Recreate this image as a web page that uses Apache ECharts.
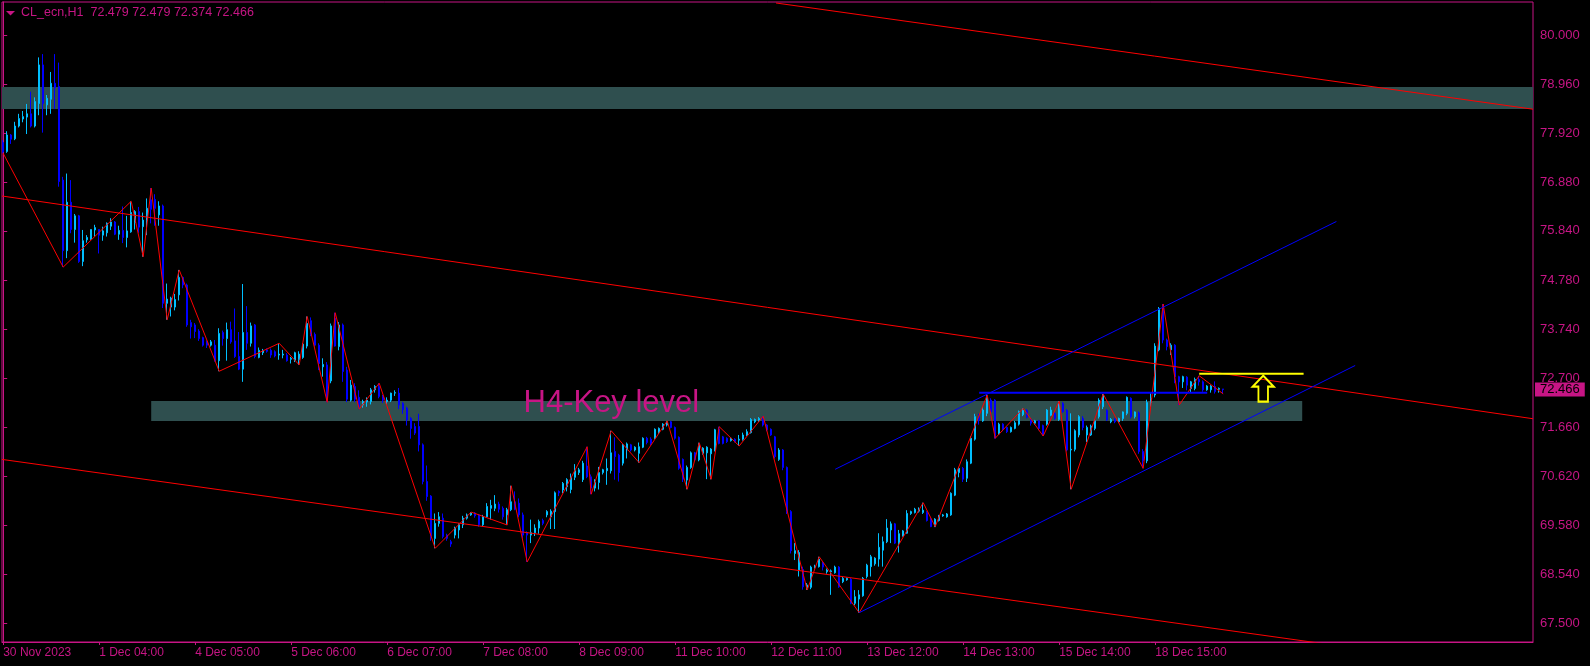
<!DOCTYPE html>
<html><head><meta charset="utf-8">
<script src="https://cdn.jsdelivr.net/npm/echarts@6/dist/echarts.min.js"></script>
<style>html,body{margin:0;padding:0;background:#000;}#c{width:1590px;height:666px;}</style>
</head><body><div id="c"></div>
<script>
// ---------- DATA ----------
const symbolName = 'CL_ecn,H1';
const timeLabels = ['30 Nov 2023','1 Dec 04:00','4 Dec 05:00','5 Dec 06:00','6 Dec 07:00','7 Dec 08:00','8 Dec 09:00','11 Dec 10:00','12 Dec 11:00','13 Dec 12:00','14 Dec 13:00','15 Dec 14:00','18 Dec 15:00'];
const labelStep = 24;
const priceTicks = [67.5,68.54,69.58,70.62,71.66,72.7,73.74,74.78,75.84,76.88,77.92,78.96,80.0];

const opens = [
77.72,77.53,77.88,77.80,78.07,78.22,78.26,78.33,78.07,78.55,
79.37,78.52,78.64,78.98,78.91,76.92,75.42,76.45,75.87,76.16,
75.19,75.65,75.67,75.86,75.87,75.75,75.80,75.94,76.03,75.77,
75.85,75.70,75.82,76.02,76.25,75.93,76.06,76.50,76.51,76.18,
76.37,74.30,74.22,74.22,74.48,74.85,74.69,73.89,73.84,73.71,
73.57,73.48,73.41,73.41,73.08,73.68,73.55,73.74,73.50,73.17,
72.90,73.68,73.45,73.84,73.15,73.25,73.31,73.30,73.27,73.20,
73.20,73.20,73.11,73.09,73.10,73.15,73.39,73.93,73.64,73.41,
72.95,72.99,72.65,73.98,73.38,73.84,72.88,72.24,72.53,72.30,
72.14,72.20,72.21,72.46,72.53,72.32,72.21,72.24,72.39,72.39,
72.17,72.07,71.85,71.68,71.68,71.29,70.51,70.20,69.30,69.62,
69.73,69.37,69.23,69.37,69.48,69.59,69.73,69.80,69.84,69.80,
69.59,69.76,69.94,69.94,70.03,69.94,69.80,69.91,70.08,70.05,
69.80,69.42,69.37,69.42,69.52,69.68,69.80,69.76,69.87,70.30,
70.33,70.40,70.34,70.60,70.70,70.55,70.84,70.61,70.37,70.49,
70.70,70.74,70.74,71.15,71.07,70.90,71.18,71.29,71.18,71.11,
71.24,71.43,71.41,71.43,71.55,71.62,71.71,71.78,71.66,71.45,
70.98,70.54,70.81,71.12,70.97,71.11,71.12,71.10,71.18,71.62,
71.46,71.43,71.38,71.41,71.39,71.41,71.50,71.55,71.78,71.80,
71.83,71.71,71.62,71.46,70.98,71.18,70.81,69.87,68.98,68.63,
68.64,68.25,68.26,68.69,68.70,68.78,68.59,68.59,68.57,68.69,
68.38,68.42,68.43,67.92,68.01,68.08,68.49,68.70,68.76,68.86,
69.05,69.23,69.48,69.61,69.20,69.35,69.41,69.83,69.85,69.88,
69.85,69.85,69.71,69.55,69.68,69.78,69.76,69.80,70.22,70.70,
70.79,70.58,70.90,71.41,71.89,71.80,71.96,72.24,72.24,71.52,
71.73,71.66,71.57,71.64,71.73,71.93,72.02,71.83,71.75,71.80,
71.70,71.73,71.92,71.96,71.83,72.17,72.02,71.18,71.195,71.50,
71.85,71.50,71.50,71.64,71.89,72.10,72.02,71.78,71.83,71.78,
71.85,71.96,72.28,71.89,71.97,71.15,70.95,72.19,72.35,73.31,
74.24,73.52,73.31,73.41,72.74,72.63,72.73,72.49,72.49,72.68,
72.63,72.46,72.46,72.53,72.47,72.479];

const closes = [
77.52,77.88,77.79,78.07,78.23,78.27,78.33,78.07,78.59,79.37,
78.55,78.66,78.98,78.89,76.89,75.42,76.45,75.87,76.16,75.19,
75.63,75.70,75.87,75.91,75.75,75.84,76.00,76.03,75.77,75.85,
75.70,75.84,76.23,76.25,75.92,76.07,76.32,76.30,76.32,76.37,
74.30,74.39,74.41,74.38,74.85,74.69,73.84,73.80,73.70,73.55,
73.41,73.41,73.48,73.08,73.66,73.55,73.74,73.48,73.17,72.90,
73.68,73.45,73.82,73.17,73.30,73.30,73.28,73.20,73.18,73.22,
73.22,73.08,73.13,73.25,73.22,73.43,73.87,73.63,73.41,73.02,
73.00,72.23,73.82,73.39,73.84,72.85,72.26,72.56,72.26,72.10,
72.21,72.24,72.46,72.53,72.32,72.24,72.24,72.39,72.40,72.14,
72.04,71.82,71.64,71.54,71.29,70.51,70.19,69.34,69.62,69.76,
69.34,69.30,69.18,69.52,69.59,69.73,69.80,69.84,69.78,69.59,
69.76,69.98,70.00,70.03,69.92,69.76,69.91,70.08,69.92,69.80,
69.37,69.37,69.42,69.52,69.66,69.62,69.87,69.88,70.27,70.27,
70.47,70.55,70.60,70.74,70.76,70.90,70.61,70.37,70.49,70.70,
70.76,70.79,71.12,71.04,70.70,71.29,71.31,71.18,71.24,71.25,
71.43,71.34,71.32,71.62,71.64,71.73,71.78,71.66,71.43,70.79,
70.56,70.81,71.12,70.97,71.32,71.22,71.24,71.20,71.61,71.32,
71.32,71.36,71.43,71.36,71.41,71.50,71.57,71.83,71.83,71.85,
71.71,71.61,71.50,71.04,71.18,70.81,69.87,69.04,69.04,69.00,
68.27,68.31,68.69,68.71,68.86,68.69,68.63,68.61,68.69,68.27,
68.45,68.45,67.92,68.06,68.10,68.45,68.73,68.91,68.88,69.11,
69.23,69.52,69.61,69.20,69.40,69.46,69.83,69.87,69.92,69.92,
69.90,69.68,69.55,69.71,69.78,69.80,69.82,70.26,70.76,70.79,
70.56,70.93,71.43,71.89,71.82,72.03,72.30,71.99,71.43,71.73,
71.62,71.57,71.66,71.76,72.00,72.02,71.875,71.75,71.80,71.64,
71.50,72.03,72.03,71.85,72.17,72.00,71.18,71.195,71.59,71.89,
71.66,71.66,71.69,71.80,72.24,72.35,71.82,71.83,71.78,71.85,
71.99,72.30,71.89,71.99,71.15,70.95,72.19,72.28,73.39,74.19,
73.52,73.38,73.41,72.74,72.63,72.74,72.56,72.63,72.68,72.63,
72.46,72.54,72.54,72.42,72.49,72.466];

const highs = [
77.77,77.96,77.90,78.16,78.33,78.39,78.54,78.80,78.68,79.53,
79.60,78.73,79.22,79.60,79.42,76.99,77.06,76.92,76.20,76.18,
75.86,75.75,75.87,75.97,75.87,75.93,76.02,76.11,76.05,75.95,
76.36,76.16,76.47,76.28,76.35,76.23,76.53,76.75,76.62,76.47,
76.40,74.72,74.44,74.50,75.01,74.87,74.72,73.95,73.88,73.75,
73.59,73.51,73.52,73.52,73.77,73.72,73.89,73.91,74.19,73.69,
74.71,74.24,73.89,73.86,73.36,73.33,73.34,73.34,73.30,73.45,
73.31,73.24,73.16,73.27,73.28,73.45,74.02,74.00,73.68,73.45,
73.13,73.05,73.87,74.10,73.90,73.87,72.95,72.67,72.60,72.45,
72.25,72.30,72.50,72.56,72.60,72.35,72.30,72.40,72.45,72.50,
72.20,72.10,71.88,71.75,71.95,71.32,70.85,70.22,69.83,69.86,
69.83,69.40,69.27,69.55,69.62,69.78,69.83,69.86,69.86,69.82,
69.80,70.05,70.12,70.22,70.08,69.98,69.95,70.42,70.30,70.15,
69.85,69.45,69.70,69.60,69.70,69.72,69.90,69.92,70.30,70.32,
70.50,70.58,70.68,70.88,70.80,70.95,71.25,70.66,70.56,70.82,
70.78,71.00,71.59,71.45,71.10,71.31,71.34,71.31,71.26,71.34,
71.45,71.46,71.45,71.64,71.66,71.75,71.80,71.80,71.68,71.47,
71.00,70.85,71.15,71.14,71.335,71.24,71.26,71.22,71.63,71.676,
71.48,71.45,71.45,71.43,71.50,71.55,71.62,71.86,71.85,71.88,
71.90,71.73,71.64,71.48,71.22,71.20,70.83,69.90,69.20,69.05,
68.70,68.35,68.72,68.74,68.91,68.80,68.66,68.64,68.72,68.71,
68.48,68.47,68.46,68.20,68.20,68.48,68.76,68.95,68.90,69.41,
69.34,69.71,69.66,69.63,69.48,69.48,69.90,69.89,69.95,69.96,
70.06,69.88,69.73,69.73,69.80,69.82,69.84,70.28,70.80,70.82,
70.82,70.98,71.47,71.95,71.95,72.10,72.35,72.28,72.26,71.76,
71.75,71.68,71.68,71.80,72.02,72.067,72.05,71.85,71.82,71.82,
71.72,72.05,72.10,72.00,72.22,72.20,72.05,71.96,71.62,71.92,
71.90,71.70,71.72,71.84,72.28,72.372,72.05,71.86,71.86,71.87,
72.00,72.32,72.30,72.00,72.00,71.20,72.25,72.39,73.45,74.22,
74.285,73.55,73.45,73.43,72.76,72.76,72.75,72.65,72.72,72.76,
72.66,72.56,72.56,72.64,72.51,72.479];

const lows = [
77.49,77.50,77.69,77.77,78.04,78.15,77.90,78.04,78.04,78.30,
77.93,78.30,78.33,78.43,76.78,75.07,75.26,75.79,75.59,75.16,
75.09,75.59,75.65,75.72,75.36,75.63,75.72,75.86,75.75,75.65,
75.58,75.49,75.80,75.87,75.80,75.29,75.75,76.00,75.95,75.95,
74.20,73.95,74.02,74.15,74.36,74.62,73.80,73.55,73.56,73.50,
73.38,73.35,73.38,73.06,72.855,73.40,73.08,73.44,73.14,72.88,
72.63,73.31,73.38,73.13,73.13,73.20,73.25,73.14,73.15,73.10,
73.13,73.06,73.02,73.05,72.99,73.12,73.34,73.60,73.38,72.88,
72.74,72.195,72.60,73.38,73.30,72.63,72.20,72.21,72.20,72.05,
72.08,72.10,72.15,72.40,72.28,72.18,72.15,72.20,72.33,72.05,
71.95,71.70,71.42,71.50,71.15,70.45,70.10,69.25,69.09,69.55,
69.30,69.25,69.12,69.30,69.30,69.52,69.70,69.78,69.74,69.55,
69.56,69.74,69.70,69.88,69.85,69.70,69.585,69.88,69.90,69.75,
69.30,68.80,69.20,69.35,69.40,69.58,69.75,69.50,69.50,70.20,
70.26,70.30,70.26,70.54,70.65,70.50,70.58,70.24,70.30,70.34,
70.66,70.44,70.68,70.55,70.51,70.85,71.00,71.15,71.15,70.91,
71.22,71.30,71.28,71.41,71.52,71.60,71.68,71.64,71.40,70.76,
70.50,70.345,70.78,70.95,70.94,71.08,70.56,70.557,71.15,71.30,
71.30,71.33,71.36,71.34,71.266,71.38,71.48,71.53,71.75,71.78,
71.68,71.58,71.48,71.00,70.95,70.75,69.82,68.98,68.84,68.49,
68.21,68.203,68.22,68.66,68.68,68.62,68.55,68.10,68.55,68.25,
68.35,68.40,67.90,67.88,67.72,68.06,68.45,68.49,68.72,68.70,
68.70,69.20,69.20,69.18,69.00,69.34,69.40,69.80,69.83,69.85,
69.82,69.66,69.54,69.55,69.66,69.76,69.74,69.78,70.20,70.60,
70.50,70.50,70.88,71.38,71.72,71.78,71.90,71.90,71.43,71.50,
71.58,71.54,71.55,71.62,71.70,71.90,71.85,71.70,71.72,71.60,
71.478,71.70,71.90,71.82,71.80,71.97,71.15,70.345,71.15,71.45,
71.60,71.35,71.48,71.60,71.85,72.05,71.80,71.75,71.75,71.76,
71.80,71.92,71.85,71.85,71.10,70.79,70.90,72.10,72.30,73.28,
73.45,73.30,73.20,72.60,72.137,72.50,72.45,72.40,72.45,72.55,
72.42,72.44,72.40,72.38,72.40,72.374];

// ZigZag pivots (bar index, price)
const zigzagBars = [0,15,32,35,37,41,44,54,69,74,76,81,83,89,94,108,117,126,127,131,146,147,152,159,166,171,174,177,179,184,190,201,204,214,230,233,246,248,255,260,264,267,275,285,290,294,299,305];
const zigzagPrices = [77.49,75.07,76.47,75.29,76.75,73.95,75.01,72.855,73.45,72.99,74.02,72.195,74.10,72.05,72.60,69.09,69.86,69.585,70.42,68.80,71.25,70.24,71.59,70.91,71.80,70.345,71.335,70.557,71.676,71.266,71.90,68.203,68.91,67.72,70.06,69.55,72.35,71.43,72.067,71.478,72.22,70.345,72.372,70.79,74.285,72.137,72.76,72.374];

// Drawn objects, as [bar index, price] anchors
const redChannelTop = [[193.2, 80.687], [382.45, 78.428]];
const redChannelMid = [[-0.3, 76.582], [382.45, 71.845]];
const redChannelLow = [[-0.3, 70.980], [382.45, 66.44]];
const blueChannelUp = [[208, 70.77], [333.3, 76.04]];
const blueChannelLow = [[214, 67.72], [338, 72.978]];
const blueLevel = [[244, 72.399], [301, 72.399]];
const yellowLevel = [[299, 72.803], [325.1, 72.803]];
const arrowAnchor = [315, 72.484];
const topZonePrices = [78.43, 78.90];
const keyZoneBars = [37, 324.75];
const keyZonePrices = [71.797, 72.222];
const keyLabelAnchor = [129.95, 72.16];
const keyLabelText = 'H4-Key level';

// ---------- CHART ----------
const MAG = '#C71585';
const BULL = '#00BFFF';
const BEAR = '#0000FF';
const FONT = 'Liberation Sans';
const n = opens.length;
const last = n - 1;
const candleData = opens.map((o, i) => [i, o, closes[i], lows[i], highs[i]]);
const tickBars = timeLabels.map((_, k) => k * labelStep);
const titleText = symbolName + '  ' + [opens[last], highs[last], lows[last], closes[last]].map(v => v.toFixed(3)).join(' ');
const lastPriceText = closes[last].toFixed(3);

function seg(pts, color, width) {
  return { type: 'line', data: pts, symbol: 'none', showSymbol: false, silent: true, clip: true, z: 3,
    lineStyle: { color: color, width: width }, emphasis: { disabled: true } };
}

const chart = echarts.init(document.getElementById('c'), null, { renderer: 'canvas', width: 1590, height: 666 });
const yellowSeries = seg(yellowLevel, '#FFFF00', 2);
yellowSeries.markPoint = {
  silent: true, animation: false,
  symbol: 'path://M11,0 L22,11 L16,11 L16,26 L6,26 L6,11 L0,11 Z',
  symbolSize: [21, 26],
  itemStyle: { color: 'rgba(0,0,0,0)', borderColor: '#FFFF00', borderWidth: 2 },
  label: { show: false },
  data: [{ coord: arrowAnchor }]
};

chart.setOption({
  animation: false,
  backgroundColor: '#000',
  grid: { left: 2, right: 57, top: 2, bottom: 24, show: true, borderColor: MAG, borderWidth: 1, backgroundColor: '#000' },
  xAxis: {
    type: 'value', min: -0.3, max: 382.45, position: 'bottom',
    axisLine: { show: true, onZero: false, lineStyle: { color: MAG, width: 1 } },
    axisTick: { show: true, customValues: tickBars, length: 3, lineStyle: { color: MAG } },
    axisLabel: { show: true, customValues: tickBars, formatter: v => timeLabels[Math.round(v / labelStep)] || '',
      color: MAG, fontFamily: FONT, fontSize: 12, align: 'left', margin: 5 },
    splitLine: { show: false }
  },
  yAxis: {
    type: 'value', position: 'right', min: 67.097, max: 80.708, scale: true,
    axisLine: { show: true, lineStyle: { color: MAG } },
    axisTick: { show: true, customValues: priceTicks, length: 4, lineStyle: { color: MAG } },
    axisLabel: { show: true, customValues: priceTicks, formatter: v => v.toFixed(3), color: MAG, fontFamily: FONT, fontSize: 13, margin: 7 },
    splitLine: { show: false }
  },
  graphic: [
    { type: 'polygon', shape: { points: [[6, 11], [15, 11], [10.5, 15.5]] }, style: { fill: MAG }, silent: true },
    { type: 'text', x: 21, y: 13, silent: true,
      style: { text: titleText, fill: MAG, fontFamily: FONT, fontSize: 12.5, verticalAlign: 'middle' } }
  ],
  series: [
    {
      type: 'line', data: [], silent: true, z: 1,
      markArea: {
        silent: true, itemStyle: { color: '#2F4F4F' },
        data: [
          [{ yAxis: topZonePrices[1] }, { yAxis: topZonePrices[0] }],
          [{ xAxis: keyZoneBars[0], yAxis: keyZonePrices[1] }, { xAxis: keyZoneBars[1], yAxis: keyZonePrices[0] }]
        ]
      },
      markPoint: {
        silent: true, symbol: 'circle', symbolSize: 1, itemStyle: { color: 'rgba(0,0,0,0)' },
        label: { show: true, position: 'right', distance: 0, formatter: keyLabelText, fontFamily: FONT, fontSize: 31, color: MAG },
        data: [{ coord: keyLabelAnchor }]
      }
    },
    {
      type: 'candlestick', data: candleData,
      dimensions: ['idx', 'open', 'close', 'lowest', 'highest'],
      encode: { x: 'idx', y: ['open', 'close', 'lowest', 'highest'] },
      barWidth: 2, z: 2, silent: true,
      itemStyle: { color: BULL, color0: BEAR, borderColor: BULL, borderColor0: BEAR, borderWidth: 1 },
      markLine: {
        silent: true, symbol: ['none', 'none'], precision: 3,
        lineStyle: { color: 'rgba(0,0,0,0)', width: 1 },
        label: { show: true, position: 'end', distance: 2, formatter: lastPriceText,
          backgroundColor: MAG, color: '#000', fontFamily: FONT, fontSize: 13, padding: [1, 5, 0, 5] },
        data: [{ yAxis: closes[last] }]
      }
    },
    seg(zigzagBars.map((b, k) => [b, zigzagPrices[k]]), '#FF0000', 1),
    seg(redChannelTop, '#FF0000', 1),
    seg(redChannelMid, '#FF0000', 1),
    seg(redChannelLow, '#FF0000', 1),
    seg(blueChannelUp, '#0000FF', 1),
    seg(blueChannelLow, '#0000FF', 1),
    seg(blueLevel, '#0000FF', 2),
    yellowSeries
  ]
});
</script>
</body></html>
